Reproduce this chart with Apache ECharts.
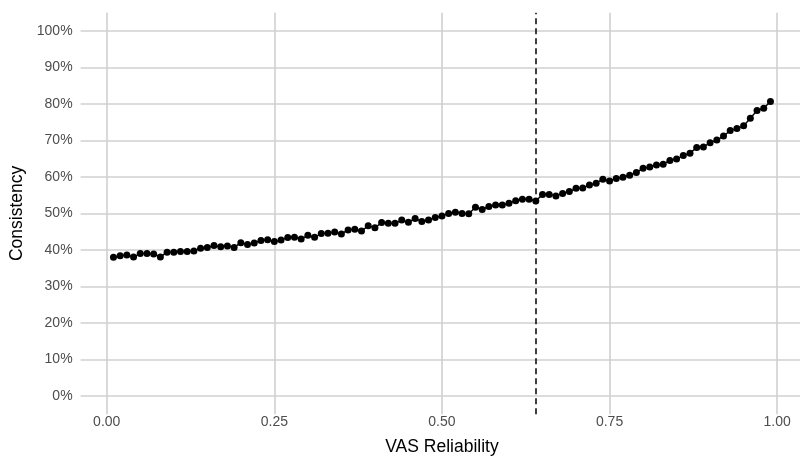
<!DOCTYPE html>
<html>
<head>
<meta charset="utf-8">
<script src="https://cdn.jsdelivr.net/npm/echarts@6/dist/echarts.min.js"></script>
<style>
  html, body { margin: 0; padding: 0; background: #fff; }
  #chart { width: 800px; height: 456px; }
</style>
</head>
<body>
<div id="chart"></div>
<script>
// VAS reliability (x)
const reliability = [
  0.01, 0.02, 0.03, 0.04, 0.05, 0.06, 0.07, 0.08, 0.09, 0.10,
  0.11, 0.12, 0.13, 0.14, 0.15, 0.16, 0.17, 0.18, 0.19, 0.20,
  0.21, 0.22, 0.23, 0.24, 0.25, 0.26, 0.27, 0.28, 0.29, 0.30,
  0.31, 0.32, 0.33, 0.34, 0.35, 0.36, 0.37, 0.38, 0.39, 0.40,
  0.41, 0.42, 0.43, 0.44, 0.45, 0.46, 0.47, 0.48, 0.49, 0.50,
  0.51, 0.52, 0.53, 0.54, 0.55, 0.56, 0.57, 0.58, 0.59, 0.60,
  0.61, 0.62, 0.63, 0.64, 0.65, 0.66, 0.67, 0.68, 0.69, 0.70,
  0.71, 0.72, 0.73, 0.74, 0.75, 0.76, 0.77, 0.78, 0.79, 0.80,
  0.81, 0.82, 0.83, 0.84, 0.85, 0.86, 0.87, 0.88, 0.89, 0.90,
  0.91, 0.92, 0.93, 0.94, 0.95, 0.96, 0.97, 0.98, 0.99
];
// consistency in percent (y)
const consistency = [
  38.0, 38.4, 38.6, 38.1, 39.0, 39.0, 38.9, 38.1, 39.4, 39.4,
  39.6, 39.6, 39.7, 40.5, 40.7, 41.2, 40.9, 41.1, 40.7, 42.0,
  41.5, 41.9, 42.6, 42.8, 42.3, 42.7, 43.4, 43.5, 43.0, 44.0,
  43.5, 44.5, 44.6, 44.9, 44.4, 45.5, 45.7, 45.2, 46.6, 46.1,
  47.5, 47.3, 47.3, 48.2, 47.6, 48.6, 47.8, 48.2, 48.9, 49.3,
  50.0, 50.3, 50.0, 49.9, 51.7, 51.1, 51.9, 52.3, 52.3, 52.8,
  53.5, 53.9, 53.9, 53.4, 55.2, 55.2, 54.8, 55.5, 56.0, 56.9,
  57.0, 57.8, 58.3, 59.4, 58.9, 59.6, 59.9, 60.5, 61.2, 62.4,
  62.7, 63.3, 63.5, 64.5, 64.9, 65.9, 66.5, 68.1, 68.2, 69.4,
  70.1, 71.2, 72.7, 73.3, 74.0, 76.1, 78.2, 78.8, 80.7
];
const xTicks = [0, 0.25, 0.5, 0.75, 1];
const yTicks = [0, 10, 20, 30, 40, 50, 60, 70, 80, 90, 100];
const cutoff = 0.64;

const chart = echarts.init(document.getElementById('chart'), null, { renderer: 'canvas' });

const font = 'Liberation Sans';
const gridLine = { show: true, lineStyle: { color: '#d0d0d0', width: 1.6 } };

chart.setOption({
  animation: false,
  backgroundColor: '#ffffff',
  grid: {
    left: 80.6,
    top: 12.7,
    width: 722.7,
    height: 401.5,
    containLabel: false,
    outerBoundsMode: 'none'
  },
  xAxis: {
    type: 'value',
    min: -0.039,
    max: 1.039,
    name: 'VAS Reliability',
    nameLocation: 'middle',
    nameGap: 24,
    nameTextStyle: { fontFamily: font, fontSize: 17.5, color: '#000' },
    axisLine: { show: false },
    axisTick: { show: false, customValues: xTicks },
    axisLabel: {
      customValues: xTicks,
      margin: 1,
      fontFamily: font,
      fontSize: 14,
      color: '#4d4d4d',
      formatter: v => v.toFixed(2)
    },
    splitLine: gridLine
  },
  yAxis: {
    type: 'value',
    min: -5,
    max: 105,
    name: 'Consistency',
    nameLocation: 'middle',
    nameGap: 53,
    nameTextStyle: { fontFamily: font, fontSize: 17.5, color: '#000' },
    axisLine: { show: false },
    axisTick: { show: false, customValues: yTicks },
    axisLabel: {
      customValues: yTicks,
      margin: 8,
      fontFamily: font,
      fontSize: 14,
      color: '#4d4d4d',
      formatter: v => v + '%'
    },
    splitLine: gridLine
  },
  series: [
    {
      type: 'line',
      data: reliability.map((x, i) => [x, consistency[i]]),
      symbol: 'circle',
      symbolSize: 7,
      showAllSymbol: true,
      itemStyle: { color: '#000' },
      lineStyle: { color: '#000', width: 1.4 },
      markLine: {
        silent: true,
        symbol: 'none',
        label: { show: false },
        lineStyle: { color: '#000', width: 1.5, type: [6, 4] },
        data: [{ xAxis: cutoff }]
      }
    }
  ]
});
</script>
</body>
</html>
